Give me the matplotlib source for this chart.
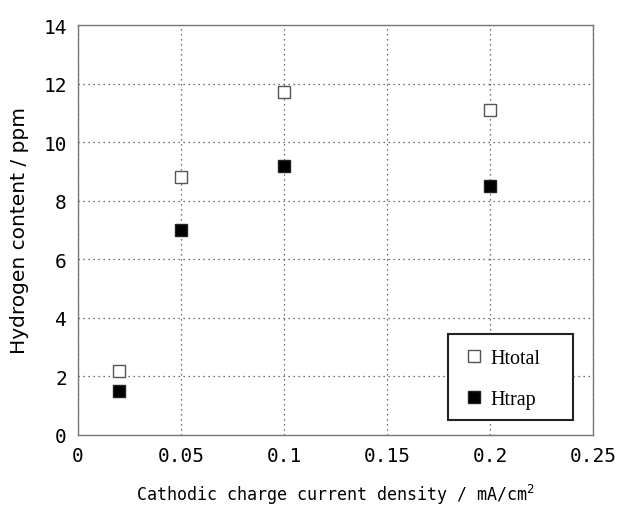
import matplotlib
matplotlib.use("Agg")
import matplotlib.pyplot as plt
from matplotlib.patches import Rectangle
from matplotlib.ticker import MultipleLocator

# data
current = [0.02, 0.05, 0.1, 0.2]
h_total = [2.2, 8.8, 11.7, 11.1]
h_trap = [1.5, 7.0, 9.2, 8.5]

xticks = [0, 0.05, 0.1, 0.15, 0.2, 0.25]
xtick_labels = ["0", "0.05", "0.1", "0.15", "0.2", "0.25"]

plt.rcParams['font.family'] = ['DejaVu Sans Mono']

fig = plt.figure(figsize=(6.2, 5.06), dpi=100)
ax = fig.add_axes([78 / 620, 70 / 506, 515 / 620, 410 / 506])

ax.plot(current, h_total, linestyle='none', marker='s', markersize=9,
        markerfacecolor='white', markeredgecolor='#555555', markeredgewidth=1,
        label='Htotal', zorder=3)
ax.plot(current, h_trap, linestyle='none', marker='s', markersize=9,
        markerfacecolor='black', markeredgecolor='#222222',
        label='Htrap', zorder=3)

ax.set_xlim(0, 0.25)
ax.set_ylim(0, 14)
ax.set_xticks(xticks)
ax.set_xticklabels(xtick_labels)
ax.yaxis.set_major_locator(MultipleLocator(2))
ax.grid(True, linestyle=(0, (1, 3)), color='#444444', linewidth=0.9)
ax.tick_params(direction='in', length=0, labelsize=14, pad=8)
for s in ax.spines.values():
    s.set_color('#777777')
    s.set_linewidth(1)

ax.set_xlabel('Cathodic charge current density / mA/cm$^2$', fontsize=12, labelpad=12)
ax.set_ylabel('Hydrogen content / ppm', fontsize=14.5, labelpad=10,
              family='DejaVu Sans')

# legend box drawn by hand, entries placed inside it
ax.add_patch(Rectangle((0.718, 0.037), 0.243, 0.209, transform=ax.transAxes,
                       facecolor='white', edgecolor='#222222', linewidth=1.5,
                       zorder=4))
leg = ax.legend(loc='center left', bbox_to_anchor=(0.750, 0.137), borderaxespad=0,
                frameon=False, borderpad=0, labelspacing=1.1, handletextpad=0.3,
                handlelength=1.0, markerscale=1.0,
                prop={'family': 'Liberation Serif', 'size': 14.5})
leg.set_zorder(5)

fig.savefig('out.png', dpi=100)
